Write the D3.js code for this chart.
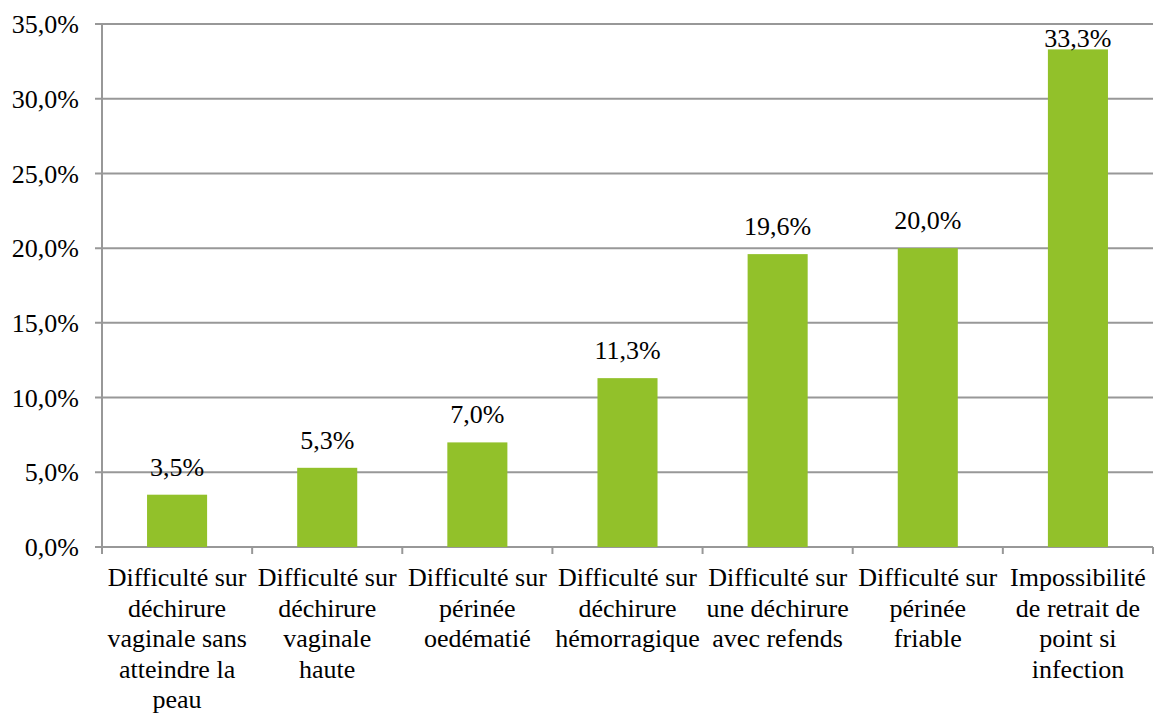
<!DOCTYPE html>
<html>
<head>
<meta charset="utf-8">
<script src="https://cdn.jsdelivr.net/npm/d3@7"></script>
<style>
  body { margin: 0; background: #fff; }
</style>
</head>
<body>
<div id="chart"></div>
<script>
const categories = [
  ["Difficulté sur", "déchirure", "vaginale sans", "atteindre la", "peau"],
  ["Difficulté sur", "déchirure", "vaginale", "haute"],
  ["Difficulté sur", "périnée", "oedématié"],
  ["Difficulté sur", "déchirure", "hémorragique"],
  ["Difficulté sur", "une déchirure", "avec refends"],
  ["Difficulté sur", "périnée", "friable"],
  ["Impossibilité", "de retrait de", "point si", "infection"]
];
const values = [3.5, 5.3, 7.0, 11.3, 19.6, 20.0, 33.3];
const yTicks = [0, 5, 10, 15, 20, 25, 30, 35];

const width = 1163, height = 713;
const margin = { top: 24, right: 10, bottom: 166, left: 102 };
const innerW = width - margin.left - margin.right;
const innerH = height - margin.top - margin.bottom;
const font = "Liberation Serif";
const fontSize = 26;

const fmt = v => v.toFixed(1).replace(".", ",") + "%";

const svg = d3.select("#chart").append("svg")
  .attr("width", width)
  .attr("height", height);

const g = svg.append("g")
  .attr("transform", `translate(${margin.left},${margin.top})`);

const x = d3.scaleBand()
  .domain(d3.range(values.length))
  .range([0, innerW])
  .padding(0);

const y = d3.scaleLinear()
  .domain([0, 35])
  .range([innerH, 0]);

// gridlines
g.selectAll(".grid")
  .data(yTicks)
  .join("line")
  .attr("x1", -7)
  .attr("x2", innerW)
  .attr("y1", d => y(d))
  .attr("y2", d => y(d))
  .attr("stroke", "#989898")
  .attr("stroke-width", 2);

// y labels
g.selectAll(".ylab")
  .data(yTicks)
  .join("text")
  .attr("x", -23)
  .attr("y", d => y(d))
  .attr("dy", "0.35em")
  .attr("text-anchor", "end")
  .attr("font-family", font)
  .attr("font-size", fontSize)
  .attr("fill", "#000")
  .text(fmt);

// bars
const barW = x.bandwidth() * 0.4;
g.selectAll(".bar")
  .data(values)
  .join("rect")
  .attr("x", (d, i) => x(i) + (x.bandwidth() - barW) / 2)
  .attr("y", d => y(d))
  .attr("width", barW)
  .attr("height", d => innerH - y(d))
  .attr("fill", "#92c12a");

// value labels
g.selectAll(".vlab")
  .data(values)
  .join("text")
  .attr("x", (d, i) => x(i) + x.bandwidth() / 2)
  .attr("y", d => Math.max(y(d) - 19, 23))
  .attr("text-anchor", "middle")
  .attr("font-family", font)
  .attr("font-size", fontSize)
  .attr("fill", "#000")
  .text(fmt);

// y axis line
g.append("line")
  .attr("x1", 0).attr("x2", 0)
  .attr("y1", 0).attr("y2", innerH)
  .attr("stroke", "#989898")
  .attr("stroke-width", 2);

// x axis ticks
g.selectAll(".xtick")
  .data(d3.range(values.length + 1))
  .join("line")
  .attr("x1", i => i * x.step())
  .attr("x2", i => i * x.step())
  .attr("y1", innerH)
  .attr("y2", innerH + 7)
  .attr("stroke", "#989898")
  .attr("stroke-width", 2);

// category labels
const lab = g.selectAll(".xlab")
  .data(categories)
  .join("text")
  .attr("text-anchor", "middle")
  .attr("transform", (d, i) => `translate(${x(i) + x.bandwidth() / 2},${innerH + 39})`)
  .attr("font-family", font)
  .attr("font-size", fontSize)
  .attr("fill", "#000");

lab.selectAll("tspan")
  .data(d => d)
  .join("tspan")
  .attr("x", 0)
  .attr("y", (d, j) => j * 30.5)
  .text(d => d);
</script>
</body>
</html>
